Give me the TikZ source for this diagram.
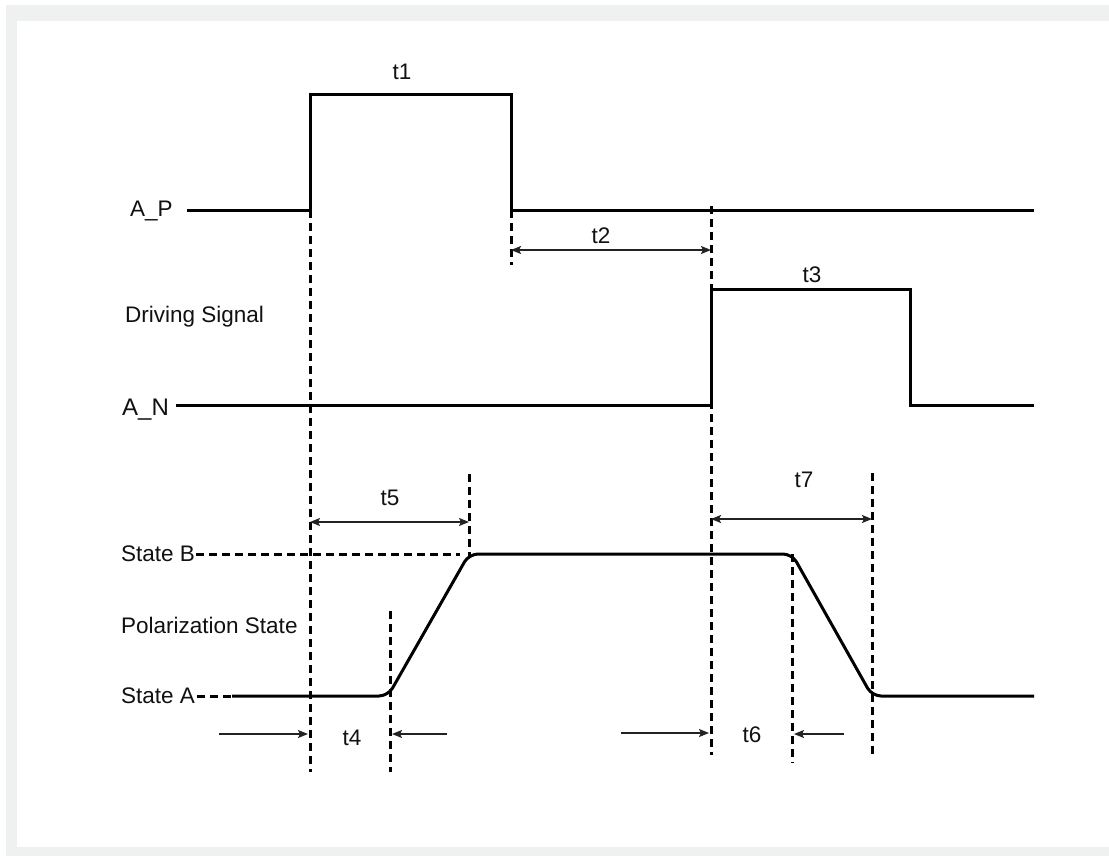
\documentclass[tikz,border=0pt]{standalone}
\usepackage{fontspec}
\setmainfont{Liberation Sans}
\usetikzlibrary{arrows.meta}
\definecolor{bggray}{HTML}{EFF1F0}
\definecolor{ink}{HTML}{111111}
\definecolor{arr}{HTML}{222222}
\begin{document}
\begin{tikzpicture}[x=1bp,y=-1bp,
  lbl/.style={inner sep=0pt,text=ink,font=\fontsize{22.5bp}{26bp}\selectfont},
  sig/.style={draw=black,line width=3bp,line join=miter},
  guide/.style={draw=black,line width=3bp,dash pattern=on 8bp off 5bp},
  dim/.style={draw=arr,line width=1.5bp,{Stealth[inset=2bp,length=10bp,width=8bp]}-{Stealth[inset=2bp,length=10bp,width=8bp]}},
  onearr/.style={draw=arr,line width=1.5bp,-{Stealth[inset=2bp,length=10bp,width=8bp]}}]
\useasboundingbox (0,0) rectangle (1109,856);
\fill[bggray] (6,5) rectangle (1109,856);
\fill[white] (17,21) rectangle (1109,847);

% labels
\node[lbl,anchor=base west] (ap) at (130,216) {A\_P};
\node[lbl,anchor=base west,font=\fontsize{24bp}{28bp}\selectfont] (an) at (122,415) {A\_N};
\node[lbl,anchor=base west] (drv) at (125,322) {Driving Signal};
\node[lbl,anchor=base west] (sb) at (121,561) {State B};
\node[lbl,anchor=base west] (pol) at (121,633) {Polarization State};
\node[lbl,anchor=base west] (sa) at (121,703) {State A};
\node[lbl,anchor=base] (t1) at (402,79) {t1};
\node[lbl,anchor=base] (t2) at (601,243) {t2};
\node[lbl,anchor=base] (t3) at (812,282) {t3};
\node[lbl,anchor=base] (t4) at (352,745) {t4};
\node[lbl,anchor=base] (t5) at (390,505) {t5};
\node[lbl,anchor=base] (t6) at (752,742) {t6};
\node[lbl,anchor=base] (t7) at (804,487) {t7};

% A_P waveform
\draw[sig] (187,210) -- (310,210) -- (310,94) -- (511,94) -- (511,210) -- (1034,210);
% A_N waveform
\draw[sig] (176,405) -- (711,405) -- (711,289) -- (910,289) -- (910,405) -- (1034,405);
% Polarization waveform
\draw[sig,rounded corners=9bp] (232,696) -- (388,696) -- (469,554) -- (792,554) -- (872,696) -- (1034,696);
\draw[guide] (196,554) -- (460,554);
\draw[guide] (197,696) -- (232,696);

% vertical guides
\draw[guide] (310,210) -- (310,772);
\draw[guide] (511,210) -- (511,265);
\draw[guide] (711,206) -- (711,755);
\draw[guide] (469,474) -- (469,556);
\draw[guide] (390,611) -- (390,772);
\draw[guide] (792,554) -- (792,763);
\draw[guide] (872,473) -- (872,759);

% dimension arrows
\coordinate (t2l) at (511,250); \coordinate (t2r) at (711,250);
\draw[dim] (t2l) -- (t2r);
\coordinate (t5l) at (310,522); \coordinate (t5r) at (469,522);
\draw[dim] (t5l) -- (t5r);
\coordinate (t7l) at (711,519); \coordinate (t7r) at (872,519);
\draw[dim] (t7l) -- (t7r);
\coordinate (t4a) at (219,734); \coordinate (t4b) at (308,734);
\draw[onearr] (t4a) -- (t4b);
\coordinate (t4c) at (447,734); \coordinate (t4d) at (392,734);
\draw[onearr] (t4c) -- (t4d);
\coordinate (t6a) at (621,733); \coordinate (t6b) at (709,733);
\draw[onearr] (t6a) -- (t6b);
\coordinate (t6c) at (844,734); \coordinate (t6d) at (794,734);
\draw[onearr] (t6c) -- (t6d);
\end{tikzpicture}
\end{document}
